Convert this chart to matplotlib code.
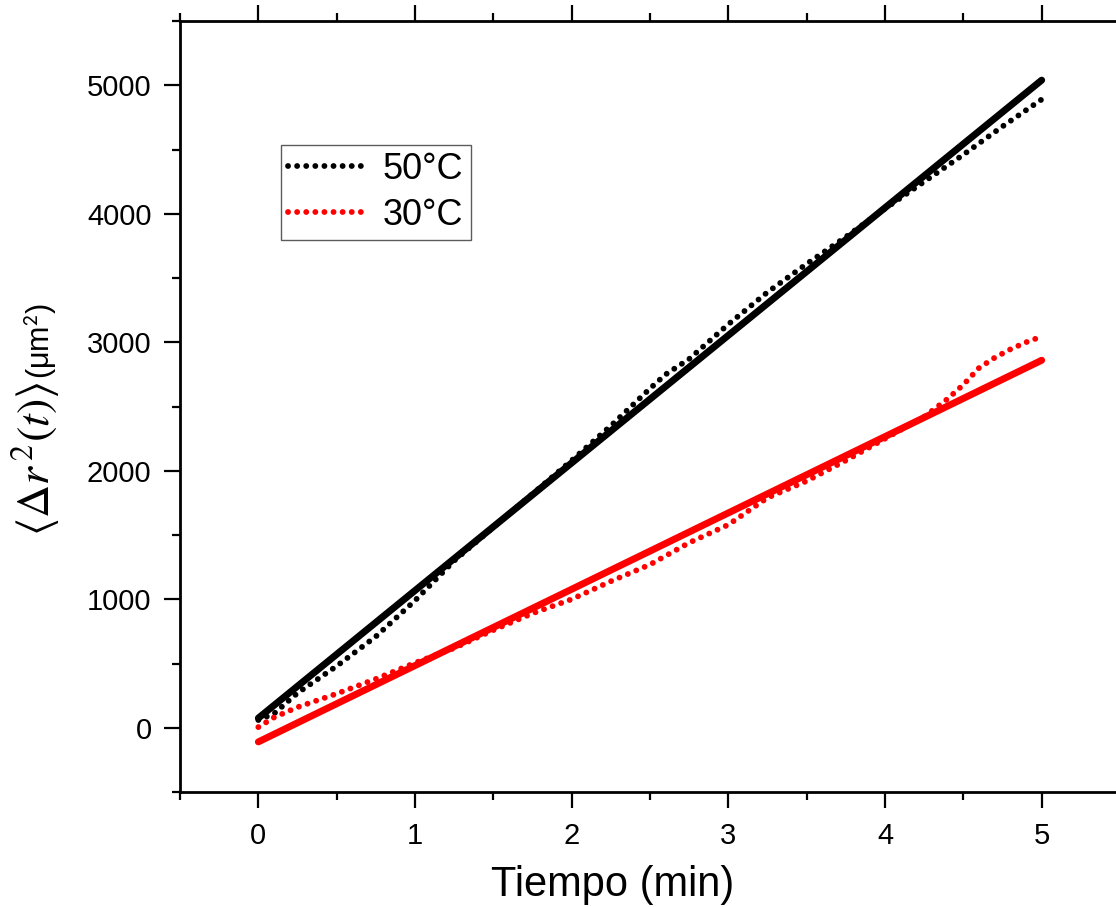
import matplotlib
matplotlib.use('Agg')
import matplotlib.pyplot as plt
from matplotlib.ticker import MultipleLocator

plt.rcParams['font.family'] = ['Liberation Sans', 'DejaVu Sans']
plt.rcParams['mathtext.fontset'] = 'stix'

# ========== 数据 ==========
t_50 = [0, 0.1, 0.25, 0.5, 0.75, 1.0, 1.25, 1.5, 1.75, 2.0, 2.25, 2.5, 2.6,
        2.75, 3.0, 3.25, 3.5, 3.75, 4.0, 4.25, 4.5, 4.75, 5.0]
msd_50 = [60, 110, 270, 480, 710, 990, 1300, 1560, 1820, 2080, 2350, 2640, 2750,
          2870, 3140, 3390, 3610, 3820, 4040, 4250, 4460, 4680, 4890]

t_30 = [0, 0.1, 0.25, 0.5, 0.75, 1.0, 1.25, 1.5, 1.75, 2.0, 2.25, 2.5, 2.75,
        3.0, 3.25, 3.5, 3.75, 4.0, 4.25, 4.4, 4.5, 4.6, 4.7, 4.8, 4.9, 5.0]
msd_30 = [5, 80, 160, 265, 380, 505, 620, 760, 890, 1000, 1140, 1270, 1440,
          1580, 1790, 1920, 2080, 2250, 2420, 2560, 2670, 2800, 2880, 2945, 3000, 3045]

# 线性拟合（端点）
fit_t = [0, 5]
fit_50 = [75, 5040]
fit_30 = [-110, 2860]

labels = ['50°C', '30°C']

# ========== 绘图 ==========
fig = plt.figure(figsize=(11.16, 9.07), dpi=100)
ax = fig.add_axes([0.1613, 0.1268, 0.8423, 0.85])

dot = (0, (0.01, 1.55))
ax.plot(fit_t, fit_50, color='black', lw=5, solid_capstyle='round', zorder=2)
ax.plot(fit_t, fit_30, color='#ff0000', lw=5, solid_capstyle='round', zorder=2)
ax.plot(t_50, msd_50, color='black', lw=4.2, linestyle=dot, dash_capstyle='round',
        label=labels[0], zorder=3)
ax.plot(t_30, msd_30, color='#ff0000', lw=4.2, linestyle=dot, dash_capstyle='round',
        label=labels[1], zorder=3)

ax.set_xlim(-0.5, 5.5)
ax.set_ylim(-500, 5500)
ax.xaxis.set_major_locator(MultipleLocator(1))
ax.xaxis.set_minor_locator(MultipleLocator(0.5))
ax.yaxis.set_major_locator(MultipleLocator(1000))
ax.yaxis.set_minor_locator(MultipleLocator(500))

for s in ax.spines.values():
    s.set_linewidth(2)
ax.tick_params(which='both', direction='out', top=True, right=True, width=1.6,
               labelsize=21)
ax.tick_params(which='major', length=11.5)
ax.tick_params(which='minor', length=5.8)
ax.tick_params(axis='x', pad=10)
ax.tick_params(axis='y', pad=9)

leg = ax.legend(loc='upper left', bbox_to_anchor=(0.1075, 0.8395), fontsize=26,
                frameon=True, fancybox=False, edgecolor='#333333',
                handlelength=2.2, handletextpad=0.42, labelspacing=0.3,
                borderpad=0.2, borderaxespad=0)
leg.get_frame().set_linewidth(1.0)

fig.text(613 / 1116, 1 - 896 / 907, 'Tiempo (min)', fontsize=30,
         ha='center', va='baseline')
fig.text(36 / 1116, 1 - 459 / 907, r'$\langle \Delta r^{\,2}(t)\rangle$', fontsize=33,
         rotation=90, ha='center', va='center')
fig.text(41 / 1116, 1 - 341 / 907, r'(μm$^{\mathsf{2}}$)', fontsize=22,
         rotation=90, ha='center', va='center')

fig.savefig('out.png', dpi=100)
